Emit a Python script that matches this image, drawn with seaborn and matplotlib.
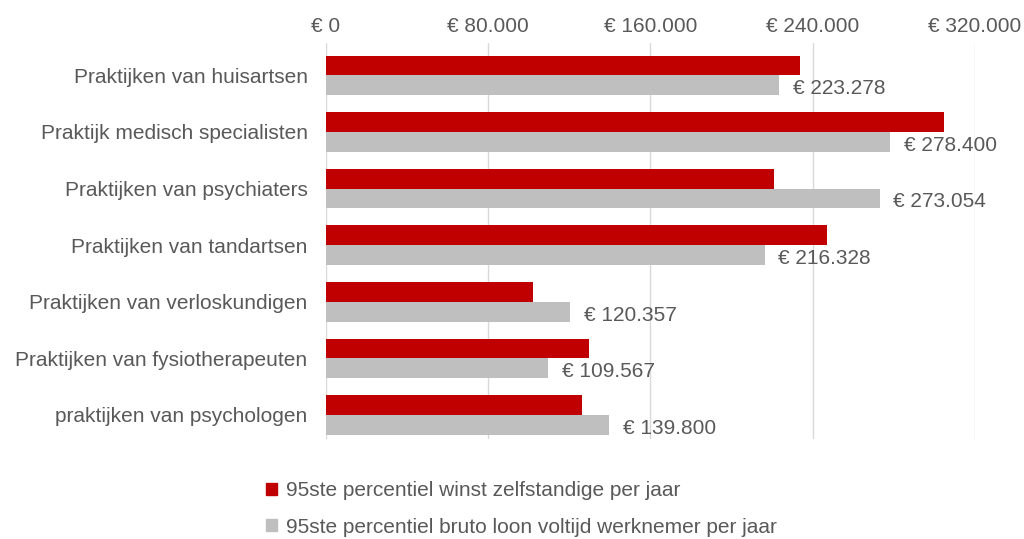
import pandas as pd
import matplotlib.pyplot as plt
import seaborn as sns
from matplotlib.ticker import FuncFormatter

sns.set_theme(style="white")
plt.rcParams['font.family'] = ['Liberation Sans', 'DejaVu Sans']

# Data
categories = ['Praktijken van huisartsen', 'Praktijk medisch specialisten',
              'Praktijken van psychiaters', 'Praktijken van tandartsen',
              'Praktijken van verloskundigen', 'Praktijken van fysiotherapeuten',
              'praktijken van psychologen']
winst = [234000, 305000, 221000, 247000, 102000, 130000, 126500]
loon = [223278, 278400, 273054, 216328, 120357, 109567, 139800]
series = ['95ste percentiel winst zelfstandige per jaar',
          '95ste percentiel bruto loon voltijd werknemer per jaar']
colors = ['#C00000', '#BFBFBF']
text_color = '#595959'

df = pd.DataFrame({
    'categorie': categories * 2,
    'reeks': [series[0]] * len(categories) + [series[1]] * len(categories),
    'waarde': winst + loon,
})

def euro(x, pos=None):
    return '€ ' + f'{x:,.0f}'.replace(',', '.')

fig = plt.figure(figsize=(10.24, 5.39), dpi=100)
ax = fig.add_axes([0.318, 0.185, 0.634, 0.735])

sns.barplot(data=df, y='categorie', x='waarde', hue='reeks', palette=colors,
            orient='h', width=0.7, ax=ax, saturation=1, legend=False,
            linewidth=0)

# labels on the grey bars
for bar, v in zip(ax.containers[1], loon):
    y = bar.get_y() + bar.get_height() / 2
    ax.annotate(euro(v), (bar.get_width(), y), xytext=(10, -2.5),
                textcoords='offset points', va='center', ha='left',
                fontsize=15, color=text_color)

ax.set_xlim(0, 320000)
ax.set_ylim(6.43, -0.57)
ax.set_xticks([0, 80000, 160000, 240000, 320000])
ax.xaxis.set_major_formatter(FuncFormatter(euro))
ax.xaxis.tick_top()
ax.tick_params(axis='both', length=0, labelsize=15, colors=text_color)
ax.tick_params(axis='x', pad=5)
ax.tick_params(axis='y', pad=13)
ax.set_xlabel('')
ax.set_ylabel('')
ax.grid(axis='x', color='#D9D9D9', linewidth=1)
ax.set_axisbelow(True)
for s in ax.spines.values():
    s.set_visible(False)

handles = [plt.Rectangle((0, 0), 1, 1, color=c) for c in colors]
fig.legend(handles, series, loc='upper left', bbox_to_anchor=(0.25, 0.127),
           frameon=False, fontsize=15, labelcolor=text_color, ncol=1,
           handlelength=0.5, handleheight=0.5, handletextpad=0.45,
           labelspacing=0.85, borderpad=0)

fig.savefig('out.png', dpi=100)
